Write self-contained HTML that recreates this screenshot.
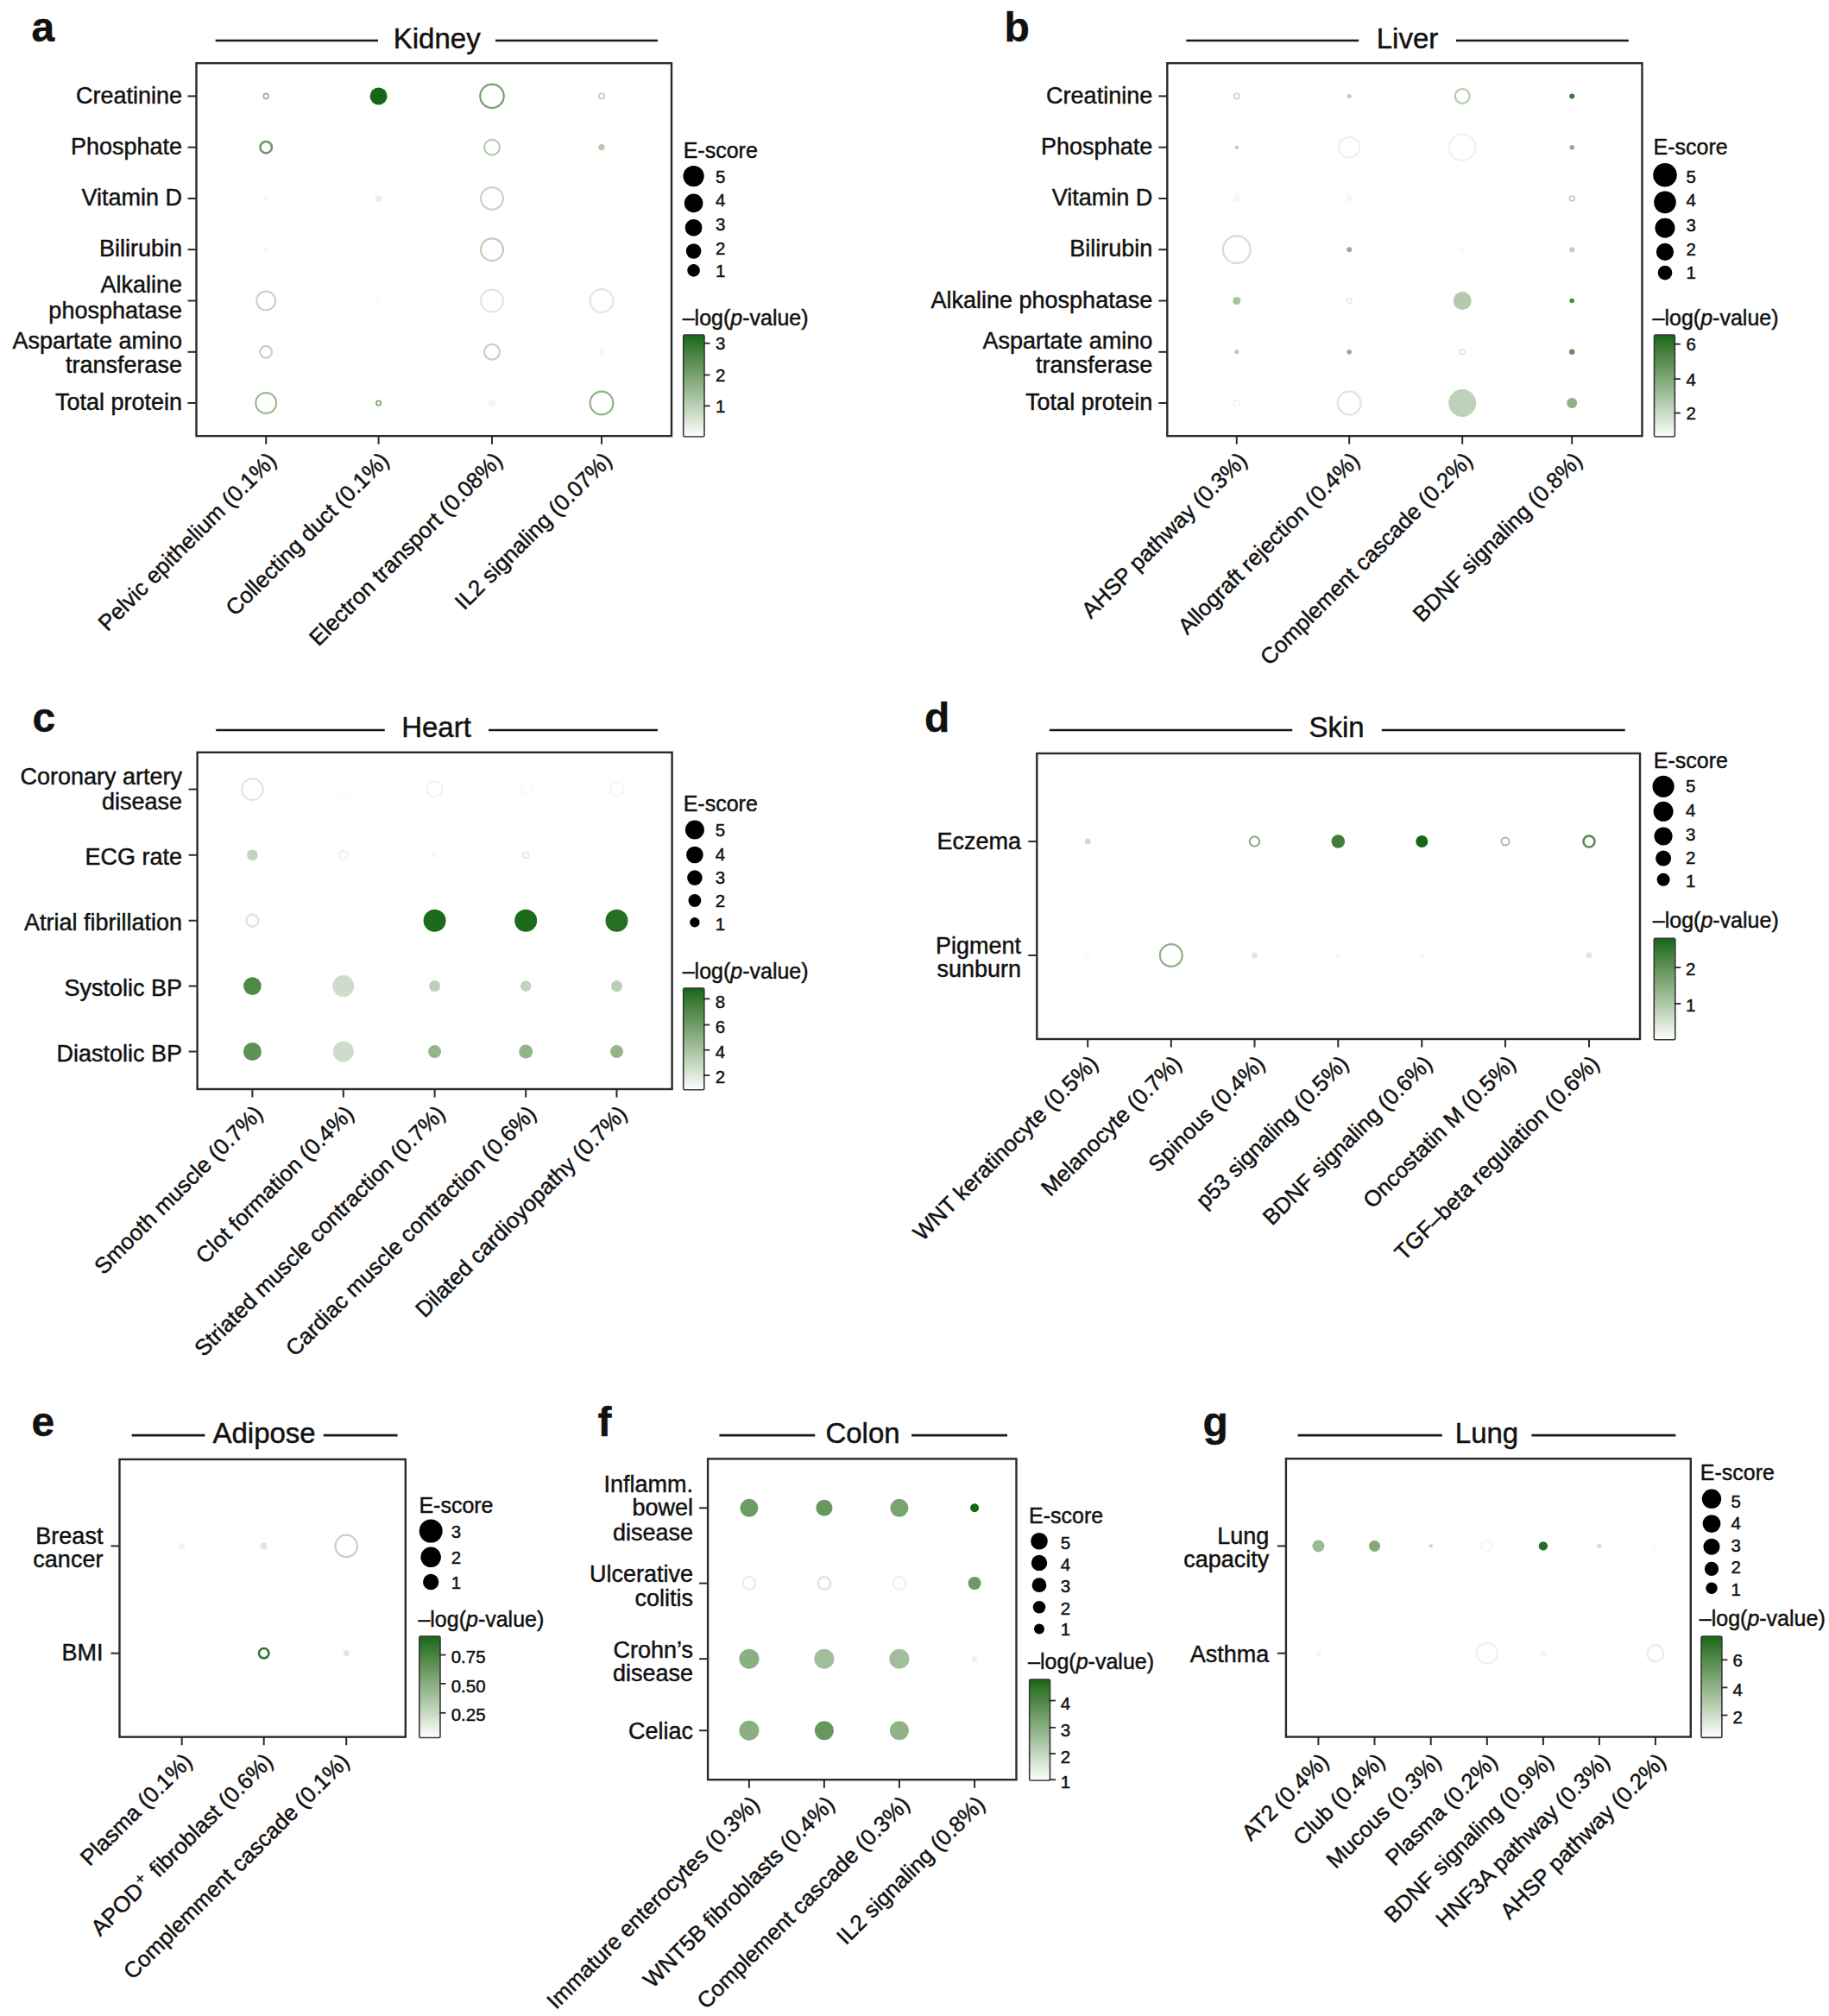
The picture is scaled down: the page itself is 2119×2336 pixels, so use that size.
<!DOCTYPE html>
<html lang="en"><head><meta charset="utf-8"><title>Figure</title>
<style>html,body{margin:0;padding:0;background:#fff}body{width:2119px;height:2336px;overflow:hidden}svg{display:block}text{font-family:"Liberation Sans",sans-serif;fill:#111;stroke:#111;stroke-width:0.45px}</style>
</head><body>
<svg width="2119" height="2336" viewBox="0 0 2119 2336">
<defs><linearGradient id="grad" x1="0" y1="0" x2="0" y2="1"><stop offset="0.00" stop-color="#146816"/><stop offset="0.10" stop-color="#33772e"/><stop offset="0.20" stop-color="#4c8544"/><stop offset="0.30" stop-color="#629459"/><stop offset="0.40" stop-color="#79a370"/><stop offset="0.50" stop-color="#8fb286"/><stop offset="0.60" stop-color="#a5c19e"/><stop offset="0.70" stop-color="#bbd0b5"/><stop offset="0.80" stop-color="#d1e0cd"/><stop offset="0.90" stop-color="#e8efe6"/><stop offset="1.00" stop-color="#ffffff"/></linearGradient></defs>
<rect width="2119" height="2336" fill="#fff"/>
<g id="panel-a">
<text x="36.5" y="47.8" font-size="48" font-weight="bold">a</text>
<text x="506.2" y="56.0" font-size="33" text-anchor="middle">Kidney</text>
<line x1="249.6" y1="47" x2="438" y2="47" stroke="#1a1a1a" stroke-width="2.7"/>
<line x1="574" y1="47" x2="762" y2="47" stroke="#1a1a1a" stroke-width="2.7"/>
<circle cx="308.2" cy="111.4" r="2.90" fill="none" stroke="#9aba92" stroke-width="1.8"/>
<circle cx="438.6" cy="111.4" r="10" fill="#146816"/>
<circle cx="570" cy="111.4" r="13.70" fill="none" stroke="#74a06b" stroke-width="2.2"/>
<circle cx="697" cy="111.4" r="3.10" fill="none" stroke="#c1d3bc" stroke-width="1.8"/>
<circle cx="308.2" cy="170.7" r="6.70" fill="none" stroke="#6d9b65" stroke-width="2.6"/>
<circle cx="570" cy="170.7" r="8.90" fill="none" stroke="#b4ccae" stroke-width="2.2"/>
<circle cx="697" cy="170.7" r="3.6" fill="#b4ccae"/>
<circle cx="308.2" cy="230.0" r="3.5" fill="#f7f8f6"/>
<circle cx="438.6" cy="230.0" r="4" fill="#ecf0eb"/>
<circle cx="570" cy="230.0" r="12.90" fill="none" stroke="#c8d7c4" stroke-width="2.2"/>
<circle cx="697" cy="230.0" r="3" fill="#fbfcfb"/>
<circle cx="308.2" cy="289.2" r="3.5" fill="#f7f8f6"/>
<circle cx="570" cy="289.2" r="12.90" fill="none" stroke="#bcd0b7" stroke-width="2.2"/>
<circle cx="308.2" cy="348.5" r="10.90" fill="none" stroke="#c8d7c4" stroke-width="2.2"/>
<circle cx="438.6" cy="348.5" r="3.5" fill="#f9faf9"/>
<circle cx="570" cy="348.5" r="12.90" fill="none" stroke="#e1e8e0" stroke-width="2.2"/>
<circle cx="697" cy="348.5" r="13.40" fill="none" stroke="#e1e8e0" stroke-width="2.2"/>
<circle cx="308.2" cy="407.8" r="6.90" fill="none" stroke="#c1d3bc" stroke-width="2.2"/>
<circle cx="438.6" cy="407.8" r="3" fill="#fbfcfb"/>
<circle cx="570" cy="407.8" r="8.90" fill="none" stroke="#c3d4bf" stroke-width="2.2"/>
<circle cx="697" cy="407.8" r="3.5" fill="#f7f8f6"/>
<circle cx="308.2" cy="467.0" r="11.90" fill="none" stroke="#9aba92" stroke-width="2.2"/>
<circle cx="438.6" cy="467.0" r="2.70" fill="none" stroke="#84aa7b" stroke-width="1.8"/>
<circle cx="570" cy="467.0" r="4" fill="#f3f5f2"/>
<circle cx="697" cy="467.0" r="13.40" fill="none" stroke="#8fb286" stroke-width="2.2"/>
<rect x="227.5" y="73.2" width="550.5" height="432.0" fill="none" stroke="#2a2a2a" stroke-width="2.4"/>
<line x1="217.5" y1="111.4" x2="227.5" y2="111.4" stroke="#2a2a2a" stroke-width="2"/>
<text x="211.0" y="119.6" font-size="27" text-anchor="end">Creatinine</text>
<line x1="217.5" y1="170.7" x2="227.5" y2="170.7" stroke="#2a2a2a" stroke-width="2"/>
<text x="211.0" y="178.9" font-size="27" text-anchor="end">Phosphate</text>
<line x1="217.5" y1="230.0" x2="227.5" y2="230.0" stroke="#2a2a2a" stroke-width="2"/>
<text x="211.0" y="238.2" font-size="27" text-anchor="end">Vitamin D</text>
<line x1="217.5" y1="289.2" x2="227.5" y2="289.2" stroke="#2a2a2a" stroke-width="2"/>
<text x="211.0" y="297.4" font-size="27" text-anchor="end">Bilirubin</text>
<line x1="217.5" y1="348.5" x2="227.5" y2="348.5" stroke="#2a2a2a" stroke-width="2"/>
<text x="211.0" y="339.2" font-size="27" text-anchor="end">Alkaline</text>
<text x="211.0" y="368.5" font-size="27" text-anchor="end">phosphatase</text>
<line x1="217.5" y1="407.8" x2="227.5" y2="407.8" stroke="#2a2a2a" stroke-width="2"/>
<text x="211.0" y="404.1" font-size="27" text-anchor="end">Aspartate amino</text>
<text x="211.0" y="431.8" font-size="27" text-anchor="end">transferase</text>
<line x1="217.5" y1="467.0" x2="227.5" y2="467.0" stroke="#2a2a2a" stroke-width="2"/>
<text x="211.0" y="475.2" font-size="27" text-anchor="end">Total protein</text>
<line x1="308.2" y1="505.2" x2="308.2" y2="514.7" stroke="#2a2a2a" stroke-width="2"/>
<text transform="translate(321.7,535.2) rotate(-45)" font-size="26" text-anchor="end">Pelvic epithelium (0.1%)</text>
<line x1="438.6" y1="505.2" x2="438.6" y2="514.7" stroke="#2a2a2a" stroke-width="2"/>
<text transform="translate(452.1,535.2) rotate(-45)" font-size="26" text-anchor="end">Collecting duct (0.1%)</text>
<line x1="570" y1="505.2" x2="570" y2="514.7" stroke="#2a2a2a" stroke-width="2"/>
<text transform="translate(583.5,535.2) rotate(-45)" font-size="26" text-anchor="end">Electron transport (0.08%)</text>
<line x1="697" y1="505.2" x2="697" y2="514.7" stroke="#2a2a2a" stroke-width="2"/>
<text transform="translate(710.5,535.2) rotate(-45)" font-size="26" text-anchor="end">IL2 signaling (0.07%)</text>
<text x="791.7" y="183.0" font-size="25">E-score</text>
<circle cx="803.6" cy="204.1" r="12.1" fill="#000"/>
<text x="829.0" y="211.5" font-size="20.5">5</text>
<circle cx="803.6" cy="235.4" r="10.8" fill="#000"/>
<text x="829.0" y="239.3" font-size="20.5">4</text>
<circle cx="803.6" cy="263.8" r="9.9" fill="#000"/>
<text x="829.0" y="267.0" font-size="20.5">3</text>
<circle cx="803.6" cy="291" r="8.8" fill="#000"/>
<text x="829.0" y="294.5" font-size="20.5">2</text>
<circle cx="803.6" cy="313.4" r="7.3" fill="#000"/>
<text x="829.0" y="320.8" font-size="20.5">1</text>
<text x="790.7" y="376.7" font-size="25">–log(<tspan font-style="italic">p</tspan>-value)</text>
<rect x="791.7" y="388" width="24.3" height="118.0" rx="1.5" fill="url(#grad)" stroke="#383838" stroke-width="1.6"/>
<line x1="815" y1="397.8" x2="822.5" y2="397.8" stroke="#2a2a2a" stroke-width="1.8"/>
<text x="829.0" y="405.2" font-size="20.5">3</text>
<line x1="815" y1="434.5" x2="822.5" y2="434.5" stroke="#2a2a2a" stroke-width="1.8"/>
<text x="829.0" y="441.9" font-size="20.5">2</text>
<line x1="815" y1="470.3" x2="822.5" y2="470.3" stroke="#2a2a2a" stroke-width="1.8"/>
<text x="829.0" y="477.7" font-size="20.5">1</text>
</g>
<g id="panel-b">
<text x="1163.5" y="47.8" font-size="48" font-weight="bold">b</text>
<text x="1630.5" y="56.0" font-size="33" text-anchor="middle">Liver</text>
<line x1="1374.3" y1="47" x2="1574.2" y2="47" stroke="#1a1a1a" stroke-width="2.7"/>
<line x1="1687" y1="47" x2="1886.8" y2="47" stroke="#1a1a1a" stroke-width="2.7"/>
<circle cx="1432.8" cy="111.4" r="3.10" fill="none" stroke="#c8d7c4" stroke-width="1.8"/>
<circle cx="1563.2" cy="111.4" r="2.5" fill="#bcd0b7"/>
<circle cx="1694.2" cy="111.4" r="8.40" fill="none" stroke="#b4ccae" stroke-width="2.2"/>
<circle cx="1821.2" cy="111.4" r="3" fill="#387a32"/>
<circle cx="1432.8" cy="170.7" r="2" fill="#b0c9a9"/>
<circle cx="1563.2" cy="170.7" r="11.90" fill="none" stroke="#ecf0eb" stroke-width="2.2"/>
<circle cx="1694.2" cy="170.7" r="15.40" fill="none" stroke="#eef2ee" stroke-width="2.2"/>
<circle cx="1821.2" cy="170.7" r="2.8" fill="#8fb286"/>
<circle cx="1432.8" cy="230.0" r="4" fill="#f7f8f6"/>
<circle cx="1563.2" cy="230.0" r="4" fill="#f7f8f6"/>
<circle cx="1821.2" cy="230.0" r="2.90" fill="none" stroke="#bcd0b7" stroke-width="1.8"/>
<circle cx="1432.8" cy="289.2" r="15.90" fill="none" stroke="#d4dfd1" stroke-width="2.2"/>
<circle cx="1563.2" cy="289.2" r="3" fill="#8fb286"/>
<circle cx="1694.2" cy="289.2" r="4" fill="#f9faf9"/>
<circle cx="1821.2" cy="289.2" r="3" fill="#bcd0b7"/>
<circle cx="1432.8" cy="348.5" r="4.5" fill="#a5c19e"/>
<circle cx="1563.2" cy="348.5" r="2.90" fill="none" stroke="#e6ebe4" stroke-width="1.8"/>
<circle cx="1694.2" cy="348.5" r="10.5" fill="#b2caac"/>
<circle cx="1821.2" cy="348.5" r="2.8" fill="#508848"/>
<circle cx="1432.8" cy="407.8" r="2.5" fill="#b0c9a9"/>
<circle cx="1563.2" cy="407.8" r="2.8" fill="#8fb286"/>
<circle cx="1694.2" cy="407.8" r="2.90" fill="none" stroke="#dfe7dd" stroke-width="1.8"/>
<circle cx="1821.2" cy="407.8" r="3.2" fill="#629459"/>
<circle cx="1432.8" cy="467.0" r="3.50" fill="none" stroke="#f3f5f2" stroke-width="2"/>
<circle cx="1563.2" cy="467.0" r="13.40" fill="none" stroke="#dde5db" stroke-width="2.2"/>
<circle cx="1694.2" cy="467.0" r="16" fill="#bed2b9"/>
<circle cx="1821.2" cy="467.0" r="6" fill="#8fb286"/>
<rect x="1352.3" y="73.2" width="550.2" height="432.0" fill="none" stroke="#2a2a2a" stroke-width="2.4"/>
<line x1="1342.3" y1="111.4" x2="1352.3" y2="111.4" stroke="#2a2a2a" stroke-width="2"/>
<text x="1335.2" y="119.6" font-size="27" text-anchor="end">Creatinine</text>
<line x1="1342.3" y1="170.7" x2="1352.3" y2="170.7" stroke="#2a2a2a" stroke-width="2"/>
<text x="1335.2" y="178.9" font-size="27" text-anchor="end">Phosphate</text>
<line x1="1342.3" y1="230.0" x2="1352.3" y2="230.0" stroke="#2a2a2a" stroke-width="2"/>
<text x="1335.2" y="238.2" font-size="27" text-anchor="end">Vitamin D</text>
<line x1="1342.3" y1="289.2" x2="1352.3" y2="289.2" stroke="#2a2a2a" stroke-width="2"/>
<text x="1335.2" y="297.4" font-size="27" text-anchor="end">Bilirubin</text>
<line x1="1342.3" y1="348.5" x2="1352.3" y2="348.5" stroke="#2a2a2a" stroke-width="2"/>
<text x="1335.2" y="356.7" font-size="27" text-anchor="end">Alkaline phosphatase</text>
<line x1="1342.3" y1="407.8" x2="1352.3" y2="407.8" stroke="#2a2a2a" stroke-width="2"/>
<text x="1335.2" y="404.1" font-size="27" text-anchor="end">Aspartate amino</text>
<text x="1335.2" y="431.8" font-size="27" text-anchor="end">transferase</text>
<line x1="1342.3" y1="467.0" x2="1352.3" y2="467.0" stroke="#2a2a2a" stroke-width="2"/>
<text x="1335.2" y="475.2" font-size="27" text-anchor="end">Total protein</text>
<line x1="1432.8" y1="505.2" x2="1432.8" y2="514.7" stroke="#2a2a2a" stroke-width="2"/>
<text transform="translate(1446.3,535.2) rotate(-45)" font-size="26" text-anchor="end">AHSP pathway (0.3%)</text>
<line x1="1563.2" y1="505.2" x2="1563.2" y2="514.7" stroke="#2a2a2a" stroke-width="2"/>
<text transform="translate(1576.7,535.2) rotate(-45)" font-size="26" text-anchor="end">Allograft rejection (0.4%)</text>
<line x1="1694.2" y1="505.2" x2="1694.2" y2="514.7" stroke="#2a2a2a" stroke-width="2"/>
<text transform="translate(1707.7,535.2) rotate(-45)" font-size="26" text-anchor="end">Complement cascade (0.2%)</text>
<line x1="1821.2" y1="505.2" x2="1821.2" y2="514.7" stroke="#2a2a2a" stroke-width="2"/>
<text transform="translate(1834.7,535.2) rotate(-45)" font-size="26" text-anchor="end">BDNF signaling (0.8%)</text>
<text x="1915.6" y="178.5" font-size="25">E-score</text>
<circle cx="1929" cy="202.7" r="13.8" fill="#000"/>
<text x="1953.6" y="211.5" font-size="20.5">5</text>
<circle cx="1929" cy="234.4" r="12.8" fill="#000"/>
<text x="1953.6" y="239.3" font-size="20.5">4</text>
<circle cx="1929" cy="264.2" r="11.5" fill="#000"/>
<text x="1953.6" y="268.1" font-size="20.5">3</text>
<circle cx="1929" cy="291.9" r="10.1" fill="#000"/>
<text x="1953.6" y="296.4" font-size="20.5">2</text>
<circle cx="1929" cy="316.1" r="8.3" fill="#000"/>
<text x="1953.6" y="322.8" font-size="20.5">1</text>
<text x="1914.6" y="376.7" font-size="25">–log(<tspan font-style="italic">p</tspan>-value)</text>
<rect x="1916.5" y="388" width="23.9" height="118.0" rx="1.5" fill="url(#grad)" stroke="#383838" stroke-width="1.6"/>
<line x1="1939.4" y1="398.7" x2="1946.9" y2="398.7" stroke="#2a2a2a" stroke-width="1.8"/>
<text x="1953.6" y="406.1" font-size="20.5">6</text>
<line x1="1939.4" y1="439.1" x2="1946.9" y2="439.1" stroke="#2a2a2a" stroke-width="1.8"/>
<text x="1953.6" y="446.5" font-size="20.5">4</text>
<line x1="1939.4" y1="478.6" x2="1946.9" y2="478.6" stroke="#2a2a2a" stroke-width="1.8"/>
<text x="1953.6" y="486.0" font-size="20.5">2</text>
</g>
<g id="panel-c">
<text x="37.5" y="848.3" font-size="48" font-weight="bold">c</text>
<text x="505.5" y="854.0" font-size="33" text-anchor="middle">Heart</text>
<line x1="250.2" y1="846" x2="445.8" y2="846" stroke="#1a1a1a" stroke-width="2.7"/>
<line x1="566" y1="846" x2="762" y2="846" stroke="#1a1a1a" stroke-width="2.7"/>
<circle cx="292.4" cy="914.6" r="12.20" fill="none" stroke="#dfe7dd" stroke-width="2.2"/>
<circle cx="397.8" cy="914.6" r="9.90" fill="none" stroke="#fbfcfb" stroke-width="2.2"/>
<circle cx="503.6" cy="914.6" r="8.90" fill="none" stroke="#f1f3f0" stroke-width="2.2"/>
<circle cx="609.2" cy="914.6" r="6.90" fill="none" stroke="#f9faf9" stroke-width="2.2"/>
<circle cx="714.5" cy="914.6" r="7.90" fill="none" stroke="#f5f7f4" stroke-width="2.2"/>
<circle cx="292.4" cy="990.8" r="6.3" fill="#c1d3bc"/>
<circle cx="397.8" cy="990.8" r="4.80" fill="none" stroke="#f1f3f0" stroke-width="2.4"/>
<circle cx="503.6" cy="990.8" r="3" fill="#f7f8f6"/>
<circle cx="609.2" cy="990.8" r="3.50" fill="none" stroke="#e6ebe4" stroke-width="2"/>
<circle cx="714.5" cy="990.8" r="2.5" fill="#f9faf9"/>
<circle cx="292.4" cy="1066.7" r="6.95" fill="none" stroke="#dfe7dd" stroke-width="2.5"/>
<circle cx="503.6" cy="1066.7" r="13" fill="#1c6b1b"/>
<circle cx="609.2" cy="1066.7" r="13" fill="#1c6b1b"/>
<circle cx="714.5" cy="1066.7" r="13" fill="#256f22"/>
<circle cx="292.4" cy="1142.6" r="10.3" fill="#508848"/>
<circle cx="397.8" cy="1142.6" r="12.5" fill="#cfdccc"/>
<circle cx="503.6" cy="1142.6" r="6.5" fill="#bcd0b7"/>
<circle cx="609.2" cy="1142.6" r="6.3" fill="#c1d3bc"/>
<circle cx="714.5" cy="1142.6" r="6.5" fill="#bcd0b7"/>
<circle cx="292.4" cy="1218.5" r="10.5" fill="#5e9155"/>
<circle cx="397.8" cy="1218.5" r="12" fill="#cfdccc"/>
<circle cx="503.6" cy="1218.5" r="7.5" fill="#93b58b"/>
<circle cx="609.2" cy="1218.5" r="8" fill="#93b58b"/>
<circle cx="714.5" cy="1218.5" r="7.5" fill="#93b58b"/>
<rect x="228.6" y="871.8" width="550.0" height="390.2" fill="none" stroke="#2a2a2a" stroke-width="2.4"/>
<line x1="218.6" y1="914.6" x2="228.6" y2="914.6" stroke="#2a2a2a" stroke-width="2"/>
<text x="211.0" y="908.7" font-size="27" text-anchor="end">Coronary artery</text>
<text x="211.0" y="938.0" font-size="27" text-anchor="end">disease</text>
<line x1="218.6" y1="990.8" x2="228.6" y2="990.8" stroke="#2a2a2a" stroke-width="2"/>
<text x="211.0" y="1001.8" font-size="27" text-anchor="end">ECG rate</text>
<line x1="218.6" y1="1066.7" x2="228.6" y2="1066.7" stroke="#2a2a2a" stroke-width="2"/>
<text x="211.0" y="1077.7" font-size="27" text-anchor="end">Atrial fibrillation</text>
<line x1="218.6" y1="1142.6" x2="228.6" y2="1142.6" stroke="#2a2a2a" stroke-width="2"/>
<text x="211.0" y="1153.6" font-size="27" text-anchor="end">Systolic BP</text>
<line x1="218.6" y1="1218.5" x2="228.6" y2="1218.5" stroke="#2a2a2a" stroke-width="2"/>
<text x="211.0" y="1229.5" font-size="27" text-anchor="end">Diastolic BP</text>
<line x1="292.4" y1="1262" x2="292.4" y2="1271.5" stroke="#2a2a2a" stroke-width="2"/>
<text transform="translate(305.9,1292.0) rotate(-45)" font-size="26" text-anchor="end">Smooth muscle (0.7%)</text>
<line x1="397.8" y1="1262" x2="397.8" y2="1271.5" stroke="#2a2a2a" stroke-width="2"/>
<text transform="translate(411.3,1292.0) rotate(-45)" font-size="26" text-anchor="end">Clot formation (0.4%)</text>
<line x1="503.6" y1="1262" x2="503.6" y2="1271.5" stroke="#2a2a2a" stroke-width="2"/>
<text transform="translate(517.1,1292.0) rotate(-45)" font-size="26" text-anchor="end">Striated muscle contraction (0.7%)</text>
<line x1="609.2" y1="1262" x2="609.2" y2="1271.5" stroke="#2a2a2a" stroke-width="2"/>
<text transform="translate(622.7,1292.0) rotate(-45)" font-size="26" text-anchor="end">Cardiac muscle contraction (0.6%)</text>
<line x1="714.5" y1="1262" x2="714.5" y2="1271.5" stroke="#2a2a2a" stroke-width="2"/>
<text transform="translate(728.0,1292.0) rotate(-45)" font-size="26" text-anchor="end">Dilated cardioyopathy (0.7%)</text>
<text x="791.7" y="939.6" font-size="25">E-score</text>
<circle cx="804.9" cy="961.5" r="11" fill="#000"/>
<text x="828.8" y="968.7" font-size="20.5">5</text>
<circle cx="804.9" cy="990.5" r="9.8" fill="#000"/>
<text x="828.8" y="996.6" font-size="20.5">4</text>
<circle cx="804.9" cy="1017.1" r="8.8" fill="#000"/>
<text x="828.8" y="1023.5" font-size="20.5">3</text>
<circle cx="804.9" cy="1043.5" r="7.4" fill="#000"/>
<text x="828.8" y="1050.7" font-size="20.5">2</text>
<circle cx="804.9" cy="1068.7" r="5.7" fill="#000"/>
<text x="828.8" y="1077.6" font-size="20.5">1</text>
<text x="790.7" y="1133.8" font-size="25">–log(<tspan font-style="italic">p</tspan>-value)</text>
<rect x="791.7" y="1145.1" width="24.1" height="117.7" rx="1.5" fill="url(#grad)" stroke="#383838" stroke-width="1.6"/>
<line x1="814.8" y1="1157.4" x2="822.3" y2="1157.4" stroke="#2a2a2a" stroke-width="1.8"/>
<text x="828.8" y="1168.0" font-size="20.5">8</text>
<line x1="814.8" y1="1187.5" x2="822.3" y2="1187.5" stroke="#2a2a2a" stroke-width="1.8"/>
<text x="828.8" y="1197.2" font-size="20.5">6</text>
<line x1="814.8" y1="1216.7" x2="822.3" y2="1216.7" stroke="#2a2a2a" stroke-width="1.8"/>
<text x="828.8" y="1226.4" font-size="20.5">4</text>
<line x1="814.8" y1="1246" x2="822.3" y2="1246" stroke="#2a2a2a" stroke-width="1.8"/>
<text x="828.8" y="1254.7" font-size="20.5">2</text>
</g>
<g id="panel-d">
<text x="1071.0" y="848.3" font-size="48" font-weight="bold">d</text>
<text x="1548.5" y="854.0" font-size="33" text-anchor="middle">Skin</text>
<line x1="1215.8" y1="846" x2="1497.2" y2="846" stroke="#1a1a1a" stroke-width="2.7"/>
<line x1="1600.8" y1="846" x2="1882.8" y2="846" stroke="#1a1a1a" stroke-width="2.7"/>
<circle cx="1260.2" cy="975" r="3.5" fill="#cfdccc"/>
<circle cx="1453.5" cy="975" r="5.70" fill="none" stroke="#8fb286" stroke-width="2.2"/>
<circle cx="1550.3" cy="975" r="7.8" fill="#407e39"/>
<circle cx="1647.3" cy="975" r="7" fill="#146816"/>
<circle cx="1744" cy="975" r="4.50" fill="none" stroke="#a5c19e" stroke-width="2"/>
<circle cx="1841" cy="975" r="6.50" fill="none" stroke="#578d4e" stroke-width="2.6"/>
<circle cx="1260.2" cy="1107" r="3" fill="#f9faf9"/>
<circle cx="1356.8" cy="1107" r="12.90" fill="none" stroke="#8fb286" stroke-width="2.2"/>
<circle cx="1453.5" cy="1107" r="3.5" fill="#dfe7dd"/>
<circle cx="1550.3" cy="1107" r="3" fill="#f7f8f6"/>
<circle cx="1647.3" cy="1107" r="3" fill="#f7f8f6"/>
<circle cx="1744" cy="1107" r="3" fill="#fbfcfb"/>
<circle cx="1841" cy="1107" r="3.5" fill="#dfe7dd"/>
<rect x="1201.3" y="873" width="698.7" height="331.0" fill="none" stroke="#2a2a2a" stroke-width="2.4"/>
<line x1="1191.3" y1="975" x2="1201.3" y2="975" stroke="#2a2a2a" stroke-width="2"/>
<text x="1183.0" y="984.1" font-size="27" text-anchor="end">Eczema</text>
<line x1="1191.3" y1="1107" x2="1201.3" y2="1107" stroke="#2a2a2a" stroke-width="2"/>
<text x="1183.0" y="1105.2" font-size="27" text-anchor="end">Pigment</text>
<text x="1183.0" y="1132.4" font-size="27" text-anchor="end">sunburn</text>
<line x1="1260.2" y1="1204" x2="1260.2" y2="1213.5" stroke="#2a2a2a" stroke-width="2"/>
<text transform="translate(1273.7,1234.0) rotate(-45)" font-size="26" text-anchor="end">WNT keratinocyte (0.5%)</text>
<line x1="1356.8" y1="1204" x2="1356.8" y2="1213.5" stroke="#2a2a2a" stroke-width="2"/>
<text transform="translate(1370.3,1234.0) rotate(-45)" font-size="26" text-anchor="end">Melanocyte (0.7%)</text>
<line x1="1453.5" y1="1204" x2="1453.5" y2="1213.5" stroke="#2a2a2a" stroke-width="2"/>
<text transform="translate(1467.0,1234.0) rotate(-45)" font-size="26" text-anchor="end">Spinous (0.4%)</text>
<line x1="1550.3" y1="1204" x2="1550.3" y2="1213.5" stroke="#2a2a2a" stroke-width="2"/>
<text transform="translate(1563.8,1234.0) rotate(-45)" font-size="26" text-anchor="end">p53 signaling (0.5%)</text>
<line x1="1647.3" y1="1204" x2="1647.3" y2="1213.5" stroke="#2a2a2a" stroke-width="2"/>
<text transform="translate(1660.8,1234.0) rotate(-45)" font-size="26" text-anchor="end">BDNF signaling (0.6%)</text>
<line x1="1744" y1="1204" x2="1744" y2="1213.5" stroke="#2a2a2a" stroke-width="2"/>
<text transform="translate(1757.5,1234.0) rotate(-45)" font-size="26" text-anchor="end">Oncostatin M (0.5%)</text>
<line x1="1841" y1="1204" x2="1841" y2="1213.5" stroke="#2a2a2a" stroke-width="2"/>
<text transform="translate(1854.5,1234.0) rotate(-45)" font-size="26" text-anchor="end">TGF–beta regulation (0.6%)</text>
<text x="1915.8" y="889.6" font-size="25">E-score</text>
<circle cx="1927.1" cy="911.3" r="12.6" fill="#000"/>
<text x="1953.1" y="918.3" font-size="20.5">5</text>
<circle cx="1927.1" cy="940.3" r="11.5" fill="#000"/>
<text x="1953.1" y="946.2" font-size="20.5">4</text>
<circle cx="1927.1" cy="969" r="10.6" fill="#000"/>
<text x="1953.1" y="973.5" font-size="20.5">3</text>
<circle cx="1927.1" cy="994.6" r="9" fill="#000"/>
<text x="1953.1" y="1000.7" font-size="20.5">2</text>
<circle cx="1927.1" cy="1019.3" r="7.5" fill="#000"/>
<text x="1953.1" y="1027.6" font-size="20.5">1</text>
<text x="1914.8" y="1075.3" font-size="25">–log(<tspan font-style="italic">p</tspan>-value)</text>
<rect x="1916.3" y="1087.2" width="24.5" height="117.6" rx="1.5" fill="url(#grad)" stroke="#383838" stroke-width="1.6"/>
<line x1="1939.8" y1="1121.1" x2="1947.3" y2="1121.1" stroke="#2a2a2a" stroke-width="1.8"/>
<text x="1953.1" y="1130.2" font-size="20.5">2</text>
<line x1="1939.8" y1="1163" x2="1947.3" y2="1163" stroke="#2a2a2a" stroke-width="1.8"/>
<text x="1953.1" y="1172.3" font-size="20.5">1</text>
</g>
<g id="panel-e">
<text x="36.5" y="1663.5" font-size="48" font-weight="bold">e</text>
<text x="306.1" y="1672.0" font-size="33" text-anchor="middle">Adipose</text>
<line x1="152.7" y1="1663.2" x2="237.4" y2="1663.2" stroke="#1a1a1a" stroke-width="2.7"/>
<line x1="374.8" y1="1663.2" x2="460.6" y2="1663.2" stroke="#1a1a1a" stroke-width="2.7"/>
<circle cx="210.7" cy="1791.4" r="3.5" fill="#eef2ee"/>
<circle cx="305.7" cy="1791.4" r="4" fill="#dfe7dd"/>
<circle cx="401.2" cy="1791.4" r="12.70" fill="none" stroke="#c3d4bf" stroke-width="2.2"/>
<circle cx="305.7" cy="1915.7" r="5.70" fill="none" stroke="#33772e" stroke-width="2.6"/>
<circle cx="401.2" cy="1915.7" r="3.5" fill="#dfe7dd"/>
<rect x="138.5" y="1691" width="331.3" height="321.7" fill="none" stroke="#2a2a2a" stroke-width="2.4"/>
<line x1="128.5" y1="1791.4" x2="138.5" y2="1791.4" stroke="#2a2a2a" stroke-width="2"/>
<text x="119.4" y="1789.1" font-size="27" text-anchor="end">Breast</text>
<text x="119.4" y="1816.3" font-size="27" text-anchor="end">cancer</text>
<line x1="128.5" y1="1915.7" x2="138.5" y2="1915.7" stroke="#2a2a2a" stroke-width="2"/>
<text x="119.4" y="1924.2" font-size="27" text-anchor="end">BMI</text>
<line x1="210.7" y1="2012.7" x2="210.7" y2="2022.2" stroke="#2a2a2a" stroke-width="2"/>
<text transform="translate(224.2,2042.7) rotate(-45)" font-size="26" text-anchor="end">Plasma (0.1%)</text>
<line x1="305.7" y1="2012.7" x2="305.7" y2="2022.2" stroke="#2a2a2a" stroke-width="2"/>
<text transform="translate(317.7,2042.7) rotate(-45)" font-size="26" text-anchor="end">APOD<tspan font-size="18" dy="-9" dx="1.5">+</tspan><tspan dy="9" dx="3"> fibroblast (0.6%)</tspan></text>
<line x1="401.2" y1="2012.7" x2="401.2" y2="2022.2" stroke="#2a2a2a" stroke-width="2"/>
<text transform="translate(406.2,2042.7) rotate(-45)" font-size="26" text-anchor="end">Complemment cascade (0.1%)</text>
<text x="485.4" y="1752.6" font-size="25">E-score</text>
<circle cx="499.2" cy="1774.1" r="13.5" fill="#000"/>
<text x="522.7" y="1782.1" font-size="20.5">3</text>
<circle cx="499.2" cy="1804.3" r="11.8" fill="#000"/>
<text x="522.7" y="1811.7" font-size="20.5">2</text>
<circle cx="499.2" cy="1833" r="9.2" fill="#000"/>
<text x="522.7" y="1840.6" font-size="20.5">1</text>
<text x="484.4" y="1884.5" font-size="25">–log(<tspan font-style="italic">p</tspan>-value)</text>
<rect x="485.8" y="1896" width="24.2" height="117.5" rx="1.5" fill="url(#grad)" stroke="#383838" stroke-width="1.6"/>
<line x1="509" y1="1917.6" x2="516.5" y2="1917.6" stroke="#2a2a2a" stroke-width="1.8"/>
<text x="522.7" y="1926.8" font-size="20.5">0.75</text>
<line x1="509" y1="1950.9" x2="516.5" y2="1950.9" stroke="#2a2a2a" stroke-width="1.8"/>
<text x="522.7" y="1960.6" font-size="20.5">0.50</text>
<line x1="509" y1="1984.8" x2="516.5" y2="1984.8" stroke="#2a2a2a" stroke-width="1.8"/>
<text x="522.7" y="1994.0" font-size="20.5">0.25</text>
</g>
<g id="panel-f">
<text x="692.5" y="1663.5" font-size="48" font-weight="bold">f</text>
<text x="999.5" y="1672.0" font-size="33" text-anchor="middle">Colon</text>
<line x1="833.4" y1="1663.2" x2="944.3" y2="1663.2" stroke="#1a1a1a" stroke-width="2.7"/>
<line x1="1056.1" y1="1663.2" x2="1167" y2="1663.2" stroke="#1a1a1a" stroke-width="2.7"/>
<circle cx="867.9" cy="1747.3" r="10.5" fill="#6d9b65"/>
<circle cx="954.9" cy="1747.3" r="9.5" fill="#67975e"/>
<circle cx="1041.9" cy="1747.3" r="10.5" fill="#79a370"/>
<circle cx="1129.1" cy="1747.3" r="5" fill="#146816"/>
<circle cx="867.9" cy="1834.6" r="7.30" fill="none" stroke="#eaeee9" stroke-width="2.4"/>
<circle cx="954.9" cy="1834.6" r="7.20" fill="none" stroke="#dfe7dd" stroke-width="2.6"/>
<circle cx="1041.9" cy="1834.6" r="7.30" fill="none" stroke="#eef2ee" stroke-width="2.4"/>
<circle cx="1129.1" cy="1834.6" r="7.5" fill="#6d9b65"/>
<circle cx="867.9" cy="1922.2" r="11.5" fill="#8aaf82"/>
<circle cx="954.9" cy="1922.2" r="11.5" fill="#a0be99"/>
<circle cx="1041.9" cy="1922.2" r="11.5" fill="#a0be99"/>
<circle cx="1129.1" cy="1922.2" r="3" fill="#eaeee9"/>
<circle cx="867.9" cy="2005.2" r="11.5" fill="#8aaf82"/>
<circle cx="954.9" cy="2005.2" r="11" fill="#67975e"/>
<circle cx="1041.9" cy="2005.2" r="11" fill="#8fb286"/>
<rect x="820.1" y="1690.4" width="357.4" height="371.8" fill="none" stroke="#2a2a2a" stroke-width="2.4"/>
<line x1="810.1" y1="1747.3" x2="820.1" y2="1747.3" stroke="#2a2a2a" stroke-width="2"/>
<text x="803.0" y="1728.7" font-size="27" text-anchor="end">Inflamm.</text>
<text x="803.0" y="1756.3" font-size="27" text-anchor="end">bowel</text>
<text x="803.0" y="1784.7" font-size="27" text-anchor="end">disease</text>
<line x1="810.1" y1="1834.6" x2="820.1" y2="1834.6" stroke="#2a2a2a" stroke-width="2"/>
<text x="803.0" y="1832.6" font-size="27" text-anchor="end">Ulcerative</text>
<text x="803.0" y="1860.6" font-size="27" text-anchor="end">colitis</text>
<line x1="810.1" y1="1922.2" x2="820.1" y2="1922.2" stroke="#2a2a2a" stroke-width="2"/>
<text x="803.0" y="1920.6" font-size="27" text-anchor="end">Crohn’s</text>
<text x="803.0" y="1947.7" font-size="27" text-anchor="end">disease</text>
<line x1="810.1" y1="2005.2" x2="820.1" y2="2005.2" stroke="#2a2a2a" stroke-width="2"/>
<text x="803.0" y="2015.4" font-size="27" text-anchor="end">Celiac</text>
<line x1="867.9" y1="2062.2" x2="867.9" y2="2071.7" stroke="#2a2a2a" stroke-width="2"/>
<text transform="translate(881.4,2092.2) rotate(-45)" font-size="26" text-anchor="end">Immature enterocytes (0.3%)</text>
<line x1="954.9" y1="2062.2" x2="954.9" y2="2071.7" stroke="#2a2a2a" stroke-width="2"/>
<text transform="translate(968.4,2092.2) rotate(-45)" font-size="26" text-anchor="end">WNT5B fibroblasts (0.4%)</text>
<line x1="1041.9" y1="2062.2" x2="1041.9" y2="2071.7" stroke="#2a2a2a" stroke-width="2"/>
<text transform="translate(1055.4,2092.2) rotate(-45)" font-size="26" text-anchor="end">Complement cascade (0.3%)</text>
<line x1="1129.1" y1="2062.2" x2="1129.1" y2="2071.7" stroke="#2a2a2a" stroke-width="2"/>
<text transform="translate(1142.6,2092.2) rotate(-45)" font-size="26" text-anchor="end">IL2 signaling (0.8%)</text>
<text x="1192.1" y="1765.0" font-size="25">E-score</text>
<circle cx="1204" cy="1785.7" r="9.8" fill="#000"/>
<text x="1228.8" y="1794.6" font-size="20.5">5</text>
<circle cx="1204" cy="1810.9" r="9.2" fill="#000"/>
<text x="1228.8" y="1819.9" font-size="20.5">4</text>
<circle cx="1204" cy="1836.7" r="8.4" fill="#000"/>
<text x="1228.8" y="1845.1" font-size="20.5">3</text>
<circle cx="1204" cy="1862.3" r="7.3" fill="#000"/>
<text x="1228.8" y="1870.6" font-size="20.5">2</text>
<circle cx="1204" cy="1887.4" r="6" fill="#000"/>
<text x="1228.8" y="1895.4" font-size="20.5">1</text>
<text x="1191.1" y="1933.8" font-size="25">–log(<tspan font-style="italic">p</tspan>-value)</text>
<rect x="1192.7" y="1946.1" width="23.8" height="116.9" rx="1.5" fill="url(#grad)" stroke="#383838" stroke-width="1.6"/>
<line x1="1215.5" y1="1970.5" x2="1223.0" y2="1970.5" stroke="#2a2a2a" stroke-width="1.8"/>
<text x="1228.8" y="1981.3" font-size="20.5">4</text>
<line x1="1215.5" y1="2001.8" x2="1223.0" y2="2001.8" stroke="#2a2a2a" stroke-width="1.8"/>
<text x="1228.8" y="2011.5" font-size="20.5">3</text>
<line x1="1215.5" y1="2032" x2="1223.0" y2="2032" stroke="#2a2a2a" stroke-width="1.8"/>
<text x="1228.8" y="2042.6" font-size="20.5">2</text>
<line x1="1215.5" y1="2062.2" x2="1223.0" y2="2062.2" stroke="#2a2a2a" stroke-width="1.8"/>
<text x="1228.8" y="2071.9" font-size="20.5">1</text>
</g>
<g id="panel-g">
<text x="1393.5" y="1663.5" font-size="48" font-weight="bold">g</text>
<text x="1722.5" y="1672.0" font-size="33" text-anchor="middle">Lung</text>
<line x1="1503.6" y1="1663.2" x2="1670.8" y2="1663.2" stroke="#1a1a1a" stroke-width="2.7"/>
<line x1="1774.5" y1="1663.2" x2="1941.4" y2="1663.2" stroke="#1a1a1a" stroke-width="2.7"/>
<circle cx="1527.4" cy="1791.4" r="7" fill="#9aba92"/>
<circle cx="1592.5" cy="1791.4" r="6.5" fill="#84aa7b"/>
<circle cx="1657.7" cy="1791.4" r="2.2" fill="#c8d7c4"/>
<circle cx="1722.8" cy="1791.4" r="6.25" fill="none" stroke="#f5f7f4" stroke-width="2.5"/>
<circle cx="1787.9" cy="1791.4" r="5.2" fill="#256f22"/>
<circle cx="1852.9" cy="1791.4" r="2.5" fill="#cfdccc"/>
<circle cx="1917.9" cy="1791.4" r="3" fill="#f9faf9"/>
<circle cx="1527.4" cy="1915.7" r="3.5" fill="#f5f7f4"/>
<circle cx="1592.5" cy="1915.7" r="3" fill="#fbfcfb"/>
<circle cx="1722.8" cy="1915.7" r="11.90" fill="none" stroke="#eef2ee" stroke-width="2.2"/>
<circle cx="1787.9" cy="1915.7" r="3.5" fill="#f3f5f2"/>
<circle cx="1917.9" cy="1915.7" r="9.35" fill="none" stroke="#eaeee9" stroke-width="2.5"/>
<rect x="1489.9" y="1690.2" width="468.9" height="322.4" fill="none" stroke="#2a2a2a" stroke-width="2.4"/>
<line x1="1479.9" y1="1791.4" x2="1489.9" y2="1791.4" stroke="#2a2a2a" stroke-width="2"/>
<text x="1470.3" y="1788.9" font-size="27" text-anchor="end">Lung</text>
<text x="1470.3" y="1816.3" font-size="27" text-anchor="end">capacity</text>
<line x1="1479.9" y1="1915.7" x2="1489.9" y2="1915.7" stroke="#2a2a2a" stroke-width="2"/>
<text x="1470.3" y="1925.5" font-size="27" text-anchor="end">Asthma</text>
<line x1="1527.4" y1="2012.6" x2="1527.4" y2="2022.1" stroke="#2a2a2a" stroke-width="2"/>
<text transform="translate(1540.9,2042.6) rotate(-45)" font-size="26" text-anchor="end">AT2 (0.4%)</text>
<line x1="1592.5" y1="2012.6" x2="1592.5" y2="2022.1" stroke="#2a2a2a" stroke-width="2"/>
<text transform="translate(1606.0,2042.6) rotate(-45)" font-size="26" text-anchor="end">Club (0.4%)</text>
<line x1="1657.7" y1="2012.6" x2="1657.7" y2="2022.1" stroke="#2a2a2a" stroke-width="2"/>
<text transform="translate(1671.2,2042.6) rotate(-45)" font-size="26" text-anchor="end">Mucous (0.3%)</text>
<line x1="1722.8" y1="2012.6" x2="1722.8" y2="2022.1" stroke="#2a2a2a" stroke-width="2"/>
<text transform="translate(1736.3,2042.6) rotate(-45)" font-size="26" text-anchor="end">Plasma (0.2%)</text>
<line x1="1787.9" y1="2012.6" x2="1787.9" y2="2022.1" stroke="#2a2a2a" stroke-width="2"/>
<text transform="translate(1801.4,2042.6) rotate(-45)" font-size="26" text-anchor="end">BDNF signaling (0.9%)</text>
<line x1="1852.9" y1="2012.6" x2="1852.9" y2="2022.1" stroke="#2a2a2a" stroke-width="2"/>
<text transform="translate(1866.4,2042.6) rotate(-45)" font-size="26" text-anchor="end">HNF3A pathway (0.3%)</text>
<line x1="1917.9" y1="2012.6" x2="1917.9" y2="2022.1" stroke="#2a2a2a" stroke-width="2"/>
<text transform="translate(1931.4,2042.6) rotate(-45)" font-size="26" text-anchor="end">AHSP pathway (0.2%)</text>
<text x="1969.8" y="1715.0" font-size="25">E-score</text>
<circle cx="1983" cy="1736.8" r="11.2" fill="#000"/>
<text x="2005.5" y="1747.0" font-size="20.5">5</text>
<circle cx="1983" cy="1765.6" r="10.4" fill="#000"/>
<text x="2005.5" y="1772.3" font-size="20.5">4</text>
<circle cx="1983" cy="1792.2" r="9.5" fill="#000"/>
<text x="2005.5" y="1797.6" font-size="20.5">3</text>
<circle cx="1983" cy="1817.9" r="8.1" fill="#000"/>
<text x="2005.5" y="1822.8" font-size="20.5">2</text>
<circle cx="1983" cy="1840.3" r="6.7" fill="#000"/>
<text x="2005.5" y="1849.0" font-size="20.5">1</text>
<text x="1968.8" y="1883.8" font-size="25">–log(<tspan font-style="italic">p</tspan>-value)</text>
<rect x="1971" y="1896.1" width="23.9" height="117.3" rx="1.5" fill="url(#grad)" stroke="#383838" stroke-width="1.6"/>
<line x1="1993.9" y1="1923.3" x2="2001.4" y2="1923.3" stroke="#2a2a2a" stroke-width="1.8"/>
<text x="2007.5" y="1930.7" font-size="20.5">6</text>
<line x1="1993.9" y1="1955.4" x2="2001.4" y2="1955.4" stroke="#2a2a2a" stroke-width="1.8"/>
<text x="2007.5" y="1965.0" font-size="20.5">4</text>
<line x1="1993.9" y1="1987.5" x2="2001.4" y2="1987.5" stroke="#2a2a2a" stroke-width="1.8"/>
<text x="2007.5" y="1997.1" font-size="20.5">2</text>
</g>
</svg></body></html>
